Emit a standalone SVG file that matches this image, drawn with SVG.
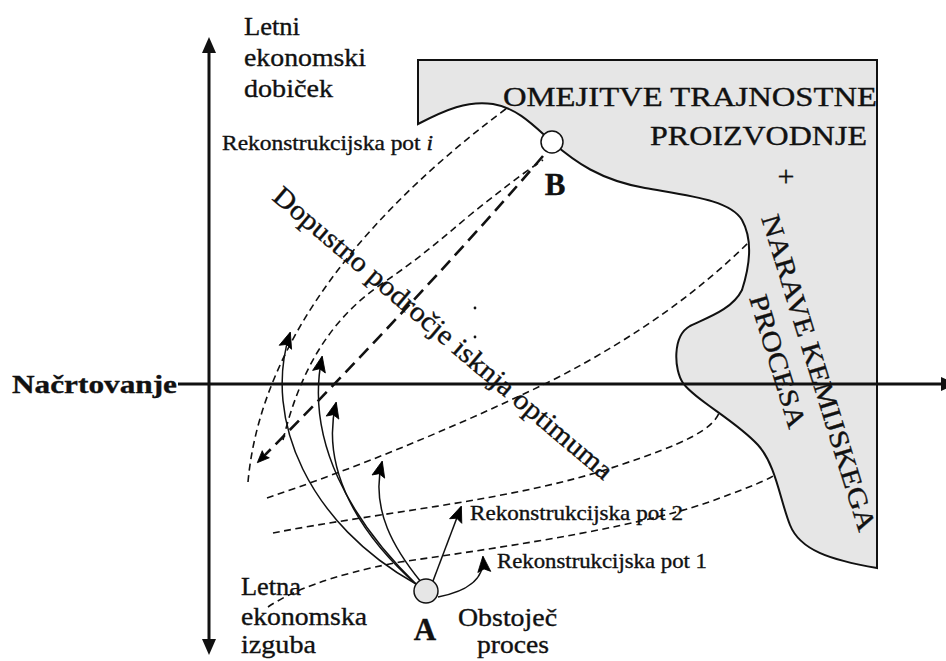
<svg xmlns="http://www.w3.org/2000/svg" width="946" height="661" viewBox="0 0 946 661">
  <style>
    .t { font-family: "Liberation Serif", "DejaVu Serif", serif; fill: #111; stroke: #111; stroke-width: 0.35; }
    .axis { stroke: #111; stroke-width: 3; fill: none; }
    .thin { stroke: #111; stroke-width: 1.6; fill: none; stroke-dasharray: 7 4.5; }
    .thick { stroke: #111; stroke-width: 2.6; fill: none; stroke-dasharray: 13 7; }
    .path { stroke: #111; stroke-width: 1.5; fill: none; }
    .head { fill: #000; stroke: #000; stroke-width: 0.8; stroke-linejoin: miter; }
  </style>
  <defs>
    <marker id="arr" viewBox="-1 -1 18 15" refX="15" refY="6.5" markerWidth="18" markerHeight="15" markerUnits="userSpaceOnUse" orient="auto" overflow="visible">
      <path class="head" d="M0,0 L16,6.5 L0,13 L3,6.5 Z"/>
    </marker>
    <marker id="arrSmall" viewBox="-1 -1 14 12" refX="11" refY="5" markerWidth="14" markerHeight="12" markerUnits="userSpaceOnUse" orient="auto" overflow="visible">
      <path class="head" d="M0,0 L12,5 L0,10 L2,5 Z"/>
    </marker>
  </defs>

  <!-- constraint region -->
  <g id="region">
    <path d="M418,124 C445,110 468,100 493,104 C518,108 536,128 552,142 C575,162 600,180 645,188 C690,196 730,200 742,220 C752,238 751,262 742,290 C732,310 706,318 690,326 C672,336 674,370 683,383 C695,400 735,420 758,445 C776,465 780,500 790,525 C800,550 830,560 877,568 L877,60 L418,60 Z" fill="#e6e6e6" stroke="#111" stroke-width="2"/>
  </g>

  <!-- axes -->
  <g id="axes">
    <line class="axis" x1="209" y1="50" x2="209" y2="642"/>
    <path d="M209,37 L216,53 L202,53 Z" fill="#111"/>
    <path d="M209,655 L216,639 L202,639 Z" fill="#111"/>
    <line class="axis" x1="178" y1="384" x2="944" y2="384"/>
    <path d="M956,384 L941,377 L941,391 Z" fill="#111"/>
  </g>

  <!-- paths and arrows -->
  <g id="connectors">
    <path class="thin" d="M248,482 C258,370 330,240 507,108"/>
    <path class="thin" d="M283,440 C300,370 330,320 380,285 C420,258 440,240 470,215 C495,195 520,175 543,160"/>
    <path class="thick" d="M543,156 C480,230 360,360 258,462" marker-end="url(#arrSmall)"/>
    <path class="thin" d="M267,498 C350,470 450,430 553,380 C640,335 700,290 748,243"/>
    <path class="thin" d="M273,533 C380,512 520,500 620,465 C680,445 715,430 720,410"/>
    <path class="thin" d="M268,607 C290,592 330,575 400,562 C520,545 650,525 720,498 C750,487 768,480 776,474"/>

    <path class="path" d="M416,584 C310,525 262,420 290,333" marker-end="url(#arr)"/>
    <path class="path" d="M417,585 C350,520 305,440 322,357" marker-end="url(#arr)"/>
    <path class="path" d="M418,586 C360,535 320,470 336,403" marker-end="url(#arr)"/>
    <path class="path" d="M421,582 C395,550 370,510 382,462" marker-end="url(#arr)"/>
    <path class="path" d="M433,581 L461,507" marker-end="url(#arr)"/>
    <path class="path" d="M438,597 C465,592 485,580 483,557" marker-end="url(#arr)"/>

    <circle cx="475" cy="308" r="1.4" fill="#111"/>
    <circle cx="475" cy="337" r="1.4" fill="#111"/>
  </g>

  <!-- process states -->
  <g id="node-A">
    <circle cx="426" cy="591" r="12" fill="#e6e6e6" stroke="#111" stroke-width="1.5"/>
    <text class="t" x="425" y="640" font-size="31" font-weight="bold" text-anchor="middle">A</text>
  </g>
  <g id="node-B">
    <circle cx="552" cy="142" r="11" fill="#fff" stroke="#111" stroke-width="1.5"/>
    <text class="t" x="555" y="195" font-size="31" font-weight="bold" text-anchor="middle">B</text>
  </g>

  <!-- labels -->
  <g id="labels">
    <text class="t" font-size="26" x="244" y="35" textLength="56" lengthAdjust="spacingAndGlyphs">Letni</text>
    <text class="t" font-size="26" x="244" y="66" textLength="122" lengthAdjust="spacingAndGlyphs">ekonomski</text>
    <text class="t" font-size="26" x="244" y="97" textLength="89" lengthAdjust="spacingAndGlyphs">dobiček</text>

    <text class="t" font-size="26" x="241" y="595" textLength="60" lengthAdjust="spacingAndGlyphs">Letna</text>
    <text class="t" font-size="26" x="241" y="625" textLength="126" lengthAdjust="spacingAndGlyphs">ekonomska</text>
    <text class="t" font-size="26" x="241" y="653" textLength="75" lengthAdjust="spacingAndGlyphs">izguba</text>

    <text class="t" font-size="26" x="458" y="626" textLength="99" lengthAdjust="spacingAndGlyphs">Obstoječ</text>
    <text class="t" font-size="26" x="477" y="653" textLength="72" lengthAdjust="spacingAndGlyphs">proces</text>

    <text class="t" font-size="26" font-weight="bold" x="12" y="393" textLength="165" lengthAdjust="spacingAndGlyphs">Načrtovanje</text>

    <text class="t" font-size="21" x="222" y="150" textLength="211" lengthAdjust="spacingAndGlyphs">Rekonstrukcijska pot <tspan font-style="italic">i</tspan></text>
    <text class="t" font-size="21" x="470" y="520" textLength="213" lengthAdjust="spacingAndGlyphs">Rekonstrukcijska pot 2</text>
    <text class="t" font-size="21" x="497" y="568" textLength="210" lengthAdjust="spacingAndGlyphs">Rekonstrukcijska pot 1</text>

    <text class="t" font-size="28" transform="translate(271,199) rotate(40.3)" textLength="436" lengthAdjust="spacingAndGlyphs">Dopustno področje isknja optimuma</text>

    <text class="t" font-size="27" x="503" y="106" textLength="374" lengthAdjust="spacingAndGlyphs">OMEJITVE TRAJNOSTNE</text>
    <text class="t" font-size="27" x="650" y="145" textLength="217" lengthAdjust="spacingAndGlyphs">PROIZVODNJE</text>
    <text class="t" font-size="30" x="786" y="186" text-anchor="middle">+</text>
    <text class="t" font-size="27" transform="translate(761,218) rotate(72.7)" textLength="330" lengthAdjust="spacingAndGlyphs">NARAVE KEMIJSKEGA</text>
    <text class="t" font-size="27" transform="translate(749,298) rotate(73)" textLength="138" lengthAdjust="spacingAndGlyphs">PROCESA</text>
  </g>
</svg>
